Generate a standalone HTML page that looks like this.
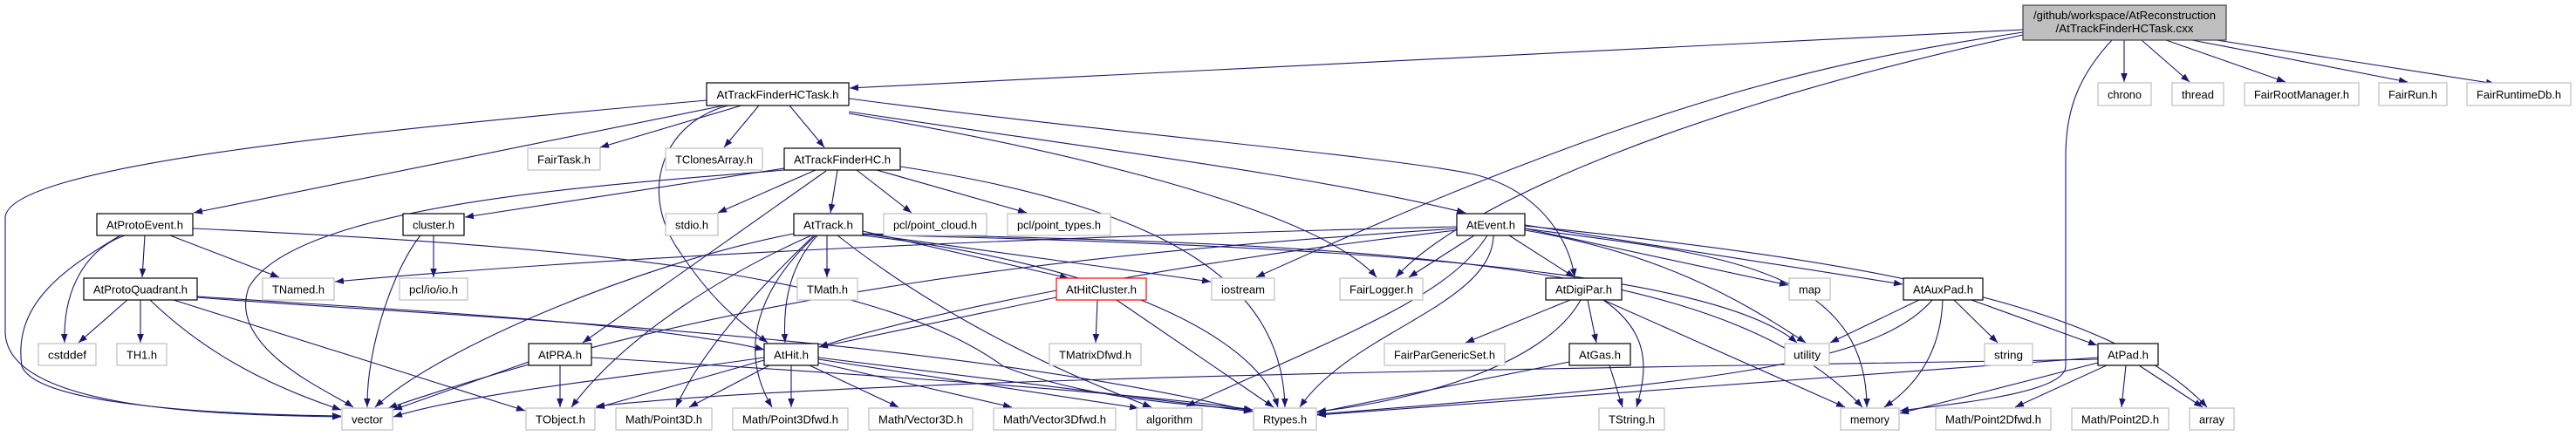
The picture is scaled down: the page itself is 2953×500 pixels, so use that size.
<!DOCTYPE html>
<html><head><meta charset="utf-8"><style>
html,body{margin:0;padding:0;background:#fff;}
svg{display:block;}
text{font-family:"Liberation Sans",sans-serif;font-size:13px;fill:#000;}
.e{fill:none;stroke:#191970;stroke-width:1.1;marker-end:url(#a);}
.p{fill:#fff;stroke:#000;stroke-width:1.2;}
.x{fill:#fff;stroke:#bfbfbf;stroke-width:1.2;}
</style></head><body>
<svg width="2953" height="500" viewBox="0 0 2953 500" xmlns="http://www.w3.org/2000/svg">
<defs><marker id="a" markerUnits="userSpaceOnUse" markerWidth="11" markerHeight="8" refX="10" refY="3.8" orient="auto"><path d="M0,0 L10,3.8 L0,7.6 z" fill="#191970"/></marker></defs>
<g>
<path class="e" d="M2319,34 L974,101"/>
<path class="e" d="M2435,46 L2435,94"/>
<path class="e" d="M2455,46 L2510,94"/>
<path class="e" d="M2483,46 L2620,94"/>
<path class="e" d="M2513,46 L2760,94"/>
<path class="e" d="M2541,46 L2860,96"/>
<path class="e" d="M2319,37 C2100,70 1900,110 1440,318"/>
<path class="e" d="M2319,40 C1950,120 1680,230 1600,318"/>
<path class="e" d="M2421,46 C2380,90 2368,130 2368,180 L2368,420 C2368,450 2250,462 2178,471"/>

<path class="e" d="M810,115 C420,150 6,190 6,250 L6,380 C6,470 250,476 391,478"/>
<path class="e" d="M830,121 L222,244"/>
<path class="e" d="M850,121 L688,169"/>
<path class="e" d="M870,121 L830,169"/>
<path class="e" d="M905,121 L945,169"/>
<path class="e" d="M835,121 C760,140 730,220 780,290 C820,350 850,370 880,393"/>
<path class="e" d="M973,130 C1150,160 1500,230 1578,318"/>
<path class="e" d="M973,128 C1250,170 1500,200 1680,244"/>
<path class="e" d="M973,113 C1250,150 1600,180 1690,200 C1770,220 1800,280 1805,318"/>

<path class="e" d="M899,193 L533,249"/>
<path class="e" d="M899,195 C730,210 340,230 285,330 C260,400 380,450 405,467"/>
<path class="e" d="M935,195 L823,244"/>
<path class="e" d="M960,195 L952,244"/>
<path class="e" d="M982,195 L1045,244"/>
<path class="e" d="M1005,195 L1177,244"/>
<path class="e" d="M1032,191 C1350,240 1470,330 1473,467"/>
<path class="e" d="M947,196 L668,393"/>

<path class="e" d="M195,270 L320,318"/>
<path class="e" d="M166,270 L163,318"/>
<path class="e" d="M143,270 C100,285 72,330 74,393"/>
<path class="e" d="M138,270 C70,310 15,350 25,420 C45,470 300,476 391,477"/>
<path class="e" d="M221,262 C650,282 1000,310 1150,420 C1250,460 1380,465 1436,470"/>

<path class="e" d="M146,344 L90,393"/>
<path class="e" d="M161,344 L161,393"/>
<path class="e" d="M172,344 C230,400 300,440 391,470"/>
<path class="e" d="M199,344 L602,471"/>
<path class="e" d="M226,340 C450,355 750,370 876,401"/>
<path class="e" d="M226,341 C450,360 1050,380 1436,472"/>

<path class="e" d="M482,270 C450,310 420,400 421,467"/>
<path class="e" d="M497,270 L497,318"/>

<path class="e" d="M910,268 C740,300 500,400 430,467"/>
<path class="e" d="M930,270 C840,310 720,380 655,467"/>
<path class="e" d="M933,270 C860,340 800,410 775,467"/>
<path class="e" d="M935,270 C870,330 845,400 885,467"/>
<path class="e" d="M937,270 C900,310 898,360 900,393"/>
<path class="e" d="M948,270 L948,318"/>
<path class="e" d="M989,265 L1225,319"/>
<path class="e" d="M989,268 L1388,323"/>
<path class="e" d="M960,270 C1100,380 1250,440 1320,467"/>
<path class="e" d="M989,270 C1250,300 1440,380 1465,467"/>
<path class="e" d="M989,268 C1600,280 1980,300 2135,467"/>
<path class="e" d="M989,269 C1450,280 1950,300 2060,393"/>

<path class="e" d="M1670,260 C1250,270 750,290 384,323"/>
<path class="e" d="M1670,262 C1250,290 850,330 445,468"/>
<path class="e" d="M1670,264 C1350,300 1050,360 939,398"/>
<path class="e" d="M1690,270 L1615,318"/>
<path class="e" d="M1712,270 C1710,350 1550,380 1490,467"/>
<path class="e" d="M1705,270 C1660,340 1550,380 1360,466"/>
<path class="e" d="M1748,262 L2050,327"/>
<path class="e" d="M1748,264 C1900,290 1990,340 2070,393"/>
<path class="e" d="M1748,262 C1950,290 2140,300 2140,467"/>
<path class="e" d="M1748,258 L2181,326"/>
<path class="e" d="M1748,259 C2150,300 2420,350 2530,467"/>
<path class="e" d="M1730,270 L1805,318"/>

<path class="e" d="M1211,341 L939,398"/>
<path class="e" d="M1258,344 L1256,393"/>
<path class="e" d="M1280,344 L1460,467"/>

<path class="e" d="M876,413 L683,468"/>
<path class="e" d="M882,419 L790,467"/>
<path class="e" d="M907,419 L907,467"/>
<path class="e" d="M928,419 L1030,467"/>
<path class="e" d="M938,416 L1160,467"/>
<path class="e" d="M938,412 L1305,468"/>
<path class="e" d="M938,410 L1436,472"/>
<path class="e" d="M876,410 C740,430 540,450 451,478"/>

<path class="e" d="M642,419 L642,467"/>
<path class="e" d="M606,415 L451,470"/>
<path class="e" d="M678,410 C1000,430 1300,450 1436,470"/>

<path class="e" d="M1800,344 L1680,393"/>
<path class="e" d="M1820,344 L1830,393"/>
<path class="e" d="M1838,344 C1890,380 1890,420 1876,467"/>
<path class="e" d="M1838,344 L2115,467"/>
<path class="e" d="M1812,344 C1770,420 1620,460 1510,472"/>

<path class="e" d="M1845,419 L1860,467"/>
<path class="e" d="M1799,415 L1510,473"/>

<path class="e" d="M2200,344 L2098,393"/>
<path class="e" d="M2227,344 C2225,400 2200,440 2160,467"/>
<path class="e" d="M2240,344 L2290,393"/>
<path class="e" d="M2260,344 L2404,396"/>
<path class="e" d="M2215,344 C2150,420 1950,440 1510,475"/>

<path class="e" d="M2405,410 L1510,476"/>
<path class="e" d="M2405,412 C2000,420 1000,430 683,466"/>
<path class="e" d="M2405,416 L2178,474"/>
<path class="e" d="M2415,419 L2310,467"/>
<path class="e" d="M2437,419 L2432,467"/>
<path class="e" d="M2452,419 L2525,467"/>
</g>
<g>
<rect x="2319" y="6" width="233" height="40" fill="#bfbfbf" stroke="#404040" stroke-width="1.2"/>
<text x="2435.5" y="22" text-anchor="middle" textLength="209" lengthAdjust="spacingAndGlyphs">/github/workspace/AtReconstruction</text>
<text x="2435.5" y="37" text-anchor="middle" textLength="158" lengthAdjust="spacingAndGlyphs">/AtTrackFinderHCTask.cxx</text>
</g>
<g>
<rect class="p" x="810" y="95" width="163" height="26"/><text x="891.5" y="113" text-anchor="middle" textLength="140" lengthAdjust="spacingAndGlyphs">AtTrackFinderHCTask.h</text>
<rect class="x" x="2405" y="95" width="61" height="26"/><text x="2435.5" y="113" text-anchor="middle" textLength="39" lengthAdjust="spacingAndGlyphs">chrono</text>
<rect class="x" x="2490" y="95" width="59" height="26"/><text x="2519.5" y="113" text-anchor="middle" textLength="37" lengthAdjust="spacingAndGlyphs">thread</text>
<rect class="x" x="2573" y="95" width="131" height="26"/><text x="2638.5" y="113" text-anchor="middle" textLength="109" lengthAdjust="spacingAndGlyphs">FairRootManager.h</text>
<rect class="x" x="2727" y="95" width="78" height="26"/><text x="2766" y="113" text-anchor="middle" textLength="56" lengthAdjust="spacingAndGlyphs">FairRun.h</text>
<rect class="x" x="2828" y="95" width="119" height="26"/><text x="2887.5" y="113" text-anchor="middle" textLength="97" lengthAdjust="spacingAndGlyphs">FairRuntimeDb.h</text>

<rect class="x" x="605" y="170" width="83" height="25"/><text x="646.5" y="187.5" text-anchor="middle" textLength="61" lengthAdjust="spacingAndGlyphs">FairTask.h</text>
<rect class="x" x="763" y="170" width="111" height="25"/><text x="818.5" y="187.5" text-anchor="middle" textLength="89" lengthAdjust="spacingAndGlyphs">TClonesArray.h</text>
<rect class="p" x="899" y="170" width="133" height="25"/><text x="965.5" y="187.5" text-anchor="middle" textLength="111" lengthAdjust="spacingAndGlyphs">AtTrackFinderHC.h</text>

<rect class="p" x="111" y="245" width="110" height="25"/><text x="166" y="262.5" text-anchor="middle" textLength="88" lengthAdjust="spacingAndGlyphs">AtProtoEvent.h</text>
<rect class="p" x="462" y="245" width="70" height="25"/><text x="497" y="262.5" text-anchor="middle" textLength="48" lengthAdjust="spacingAndGlyphs">cluster.h</text>
<rect class="x" x="763" y="245" width="60" height="25"/><text x="793" y="262.5" text-anchor="middle" textLength="38" lengthAdjust="spacingAndGlyphs">stdio.h</text>
<rect class="p" x="910" y="245" width="79" height="25"/><text x="949.5" y="262.5" text-anchor="middle" textLength="57" lengthAdjust="spacingAndGlyphs">AtTrack.h</text>
<rect class="x" x="1013" y="245" width="118" height="25"/><text x="1072" y="262.5" text-anchor="middle" textLength="96" lengthAdjust="spacingAndGlyphs">pcl/point_cloud.h</text>
<rect class="x" x="1155" y="245" width="118" height="25"/><text x="1214" y="262.5" text-anchor="middle" textLength="96" lengthAdjust="spacingAndGlyphs">pcl/point_types.h</text>
<rect class="p" x="1670" y="245" width="78" height="25"/><text x="1709" y="262.5" text-anchor="middle" textLength="56" lengthAdjust="spacingAndGlyphs">AtEvent.h</text>

<rect class="p" x="96" y="319" width="130" height="25"/><text x="161" y="336.5" text-anchor="middle" textLength="108" lengthAdjust="spacingAndGlyphs">AtProtoQuadrant.h</text>
<rect class="x" x="301" y="319" width="82" height="25"/><text x="342" y="336.5" text-anchor="middle" textLength="60" lengthAdjust="spacingAndGlyphs">TNamed.h</text>
<rect class="x" x="458" y="319" width="78" height="25"/><text x="497" y="336.5" text-anchor="middle" textLength="56" lengthAdjust="spacingAndGlyphs">pcl/io/io.h</text>
<rect class="x" x="914" y="319" width="69" height="25"/><text x="948.5" y="336.5" text-anchor="middle" textLength="47" lengthAdjust="spacingAndGlyphs">TMath.h</text>
<rect x="1211" y="319" width="103" height="25" fill="#fff" stroke="#ff0000" stroke-width="1.2"/><text x="1262.5" y="336.5" text-anchor="middle" textLength="81" lengthAdjust="spacingAndGlyphs">AtHitCluster.h</text>
<rect class="x" x="1389" y="319" width="72" height="25"/><text x="1425" y="336.5" text-anchor="middle" textLength="50" lengthAdjust="spacingAndGlyphs">iostream</text>
<rect class="x" x="1536" y="319" width="95" height="25"/><text x="1583.5" y="336.5" text-anchor="middle" textLength="73" lengthAdjust="spacingAndGlyphs">FairLogger.h</text>
<rect class="p" x="1772" y="319" width="87" height="25"/><text x="1815.5" y="336.5" text-anchor="middle" textLength="65" lengthAdjust="spacingAndGlyphs">AtDigiPar.h</text>
<rect class="x" x="2051" y="319" width="47" height="25"/><text x="2074.5" y="336.5" text-anchor="middle" textLength="25" lengthAdjust="spacingAndGlyphs">map</text>
<rect class="p" x="2182" y="319" width="91" height="25"/><text x="2227.5" y="336.5" text-anchor="middle" textLength="69" lengthAdjust="spacingAndGlyphs">AtAuxPad.h</text>

<rect class="x" x="44" y="394" width="66" height="25"/><text x="77" y="411.5" text-anchor="middle" textLength="44" lengthAdjust="spacingAndGlyphs">cstddef</text>
<rect class="x" x="134" y="394" width="57" height="25"/><text x="162.5" y="411.5" text-anchor="middle" textLength="35" lengthAdjust="spacingAndGlyphs">TH1.h</text>
<rect class="p" x="606" y="394" width="72" height="25"/><text x="642" y="411.5" text-anchor="middle" textLength="50" lengthAdjust="spacingAndGlyphs">AtPRA.h</text>
<rect class="p" x="876" y="394" width="62" height="25"/><text x="907" y="411.5" text-anchor="middle" textLength="40" lengthAdjust="spacingAndGlyphs">AtHit.h</text>
<rect class="x" x="1203" y="394" width="105" height="25"/><text x="1255.5" y="411.5" text-anchor="middle" textLength="83" lengthAdjust="spacingAndGlyphs">TMatrixDfwd.h</text>
<rect class="x" x="1587" y="394" width="138" height="25"/><text x="1656" y="411.5" text-anchor="middle" textLength="116" lengthAdjust="spacingAndGlyphs">FairParGenericSet.h</text>
<rect class="p" x="1799" y="394" width="70" height="25"/><text x="1834" y="411.5" text-anchor="middle" textLength="48" lengthAdjust="spacingAndGlyphs">AtGas.h</text>
<rect class="x" x="2046" y="394" width="51" height="25"/><text x="2071.5" y="411.5" text-anchor="middle" textLength="31" lengthAdjust="spacingAndGlyphs">utility</text>
<rect class="x" x="2275" y="394" width="55" height="25"/><text x="2302.5" y="411.5" text-anchor="middle" textLength="33" lengthAdjust="spacingAndGlyphs">string</text>
<rect class="p" x="2405" y="394" width="69" height="25"/><text x="2439.5" y="411.5" text-anchor="middle" textLength="47" lengthAdjust="spacingAndGlyphs">AtPad.h</text>

<rect class="x" x="392" y="468" width="58" height="25"/><text x="421" y="485.5" text-anchor="middle" textLength="36" lengthAdjust="spacingAndGlyphs">vector</text>
<rect class="x" x="603" y="468" width="79" height="25"/><text x="642.5" y="485.5" text-anchor="middle" textLength="57" lengthAdjust="spacingAndGlyphs">TObject.h</text>
<rect class="x" x="706" y="468" width="110" height="25"/><text x="761" y="485.5" text-anchor="middle" textLength="88" lengthAdjust="spacingAndGlyphs">Math/Point3D.h</text>
<rect class="x" x="840" y="468" width="132" height="25"/><text x="906" y="485.5" text-anchor="middle" textLength="110" lengthAdjust="spacingAndGlyphs">Math/Point3Dfwd.h</text>
<rect class="x" x="996" y="468" width="119" height="25"/><text x="1055.5" y="485.5" text-anchor="middle" textLength="97" lengthAdjust="spacingAndGlyphs">Math/Vector3D.h</text>
<rect class="x" x="1139" y="468" width="140" height="25"/><text x="1209" y="485.5" text-anchor="middle" textLength="118" lengthAdjust="spacingAndGlyphs">Math/Vector3Dfwd.h</text>
<rect class="x" x="1303" y="468" width="75" height="25"/><text x="1340.5" y="485.5" text-anchor="middle" textLength="53" lengthAdjust="spacingAndGlyphs">algorithm</text>
<rect class="x" x="1437" y="468" width="72" height="25"/><text x="1473" y="485.5" text-anchor="middle" textLength="50" lengthAdjust="spacingAndGlyphs">Rtypes.h</text>
<rect class="x" x="1833" y="468" width="75" height="25"/><text x="1870.5" y="485.5" text-anchor="middle" textLength="53" lengthAdjust="spacingAndGlyphs">TString.h</text>
<rect class="x" x="2110" y="468" width="67" height="25"/><text x="2143.5" y="485.5" text-anchor="middle" textLength="45" lengthAdjust="spacingAndGlyphs">memory</text>
<rect class="x" x="2219" y="468" width="132" height="25"/><text x="2285" y="485.5" text-anchor="middle" textLength="110" lengthAdjust="spacingAndGlyphs">Math/Point2Dfwd.h</text>
<rect class="x" x="2375" y="468" width="111" height="25"/><text x="2430.5" y="485.5" text-anchor="middle" textLength="89" lengthAdjust="spacingAndGlyphs">Math/Point2D.h</text>
<rect class="x" x="2510" y="468" width="51" height="25"/><text x="2535.5" y="485.5" text-anchor="middle" textLength="29" lengthAdjust="spacingAndGlyphs">array</text>
</g>
</svg>
</body></html>
